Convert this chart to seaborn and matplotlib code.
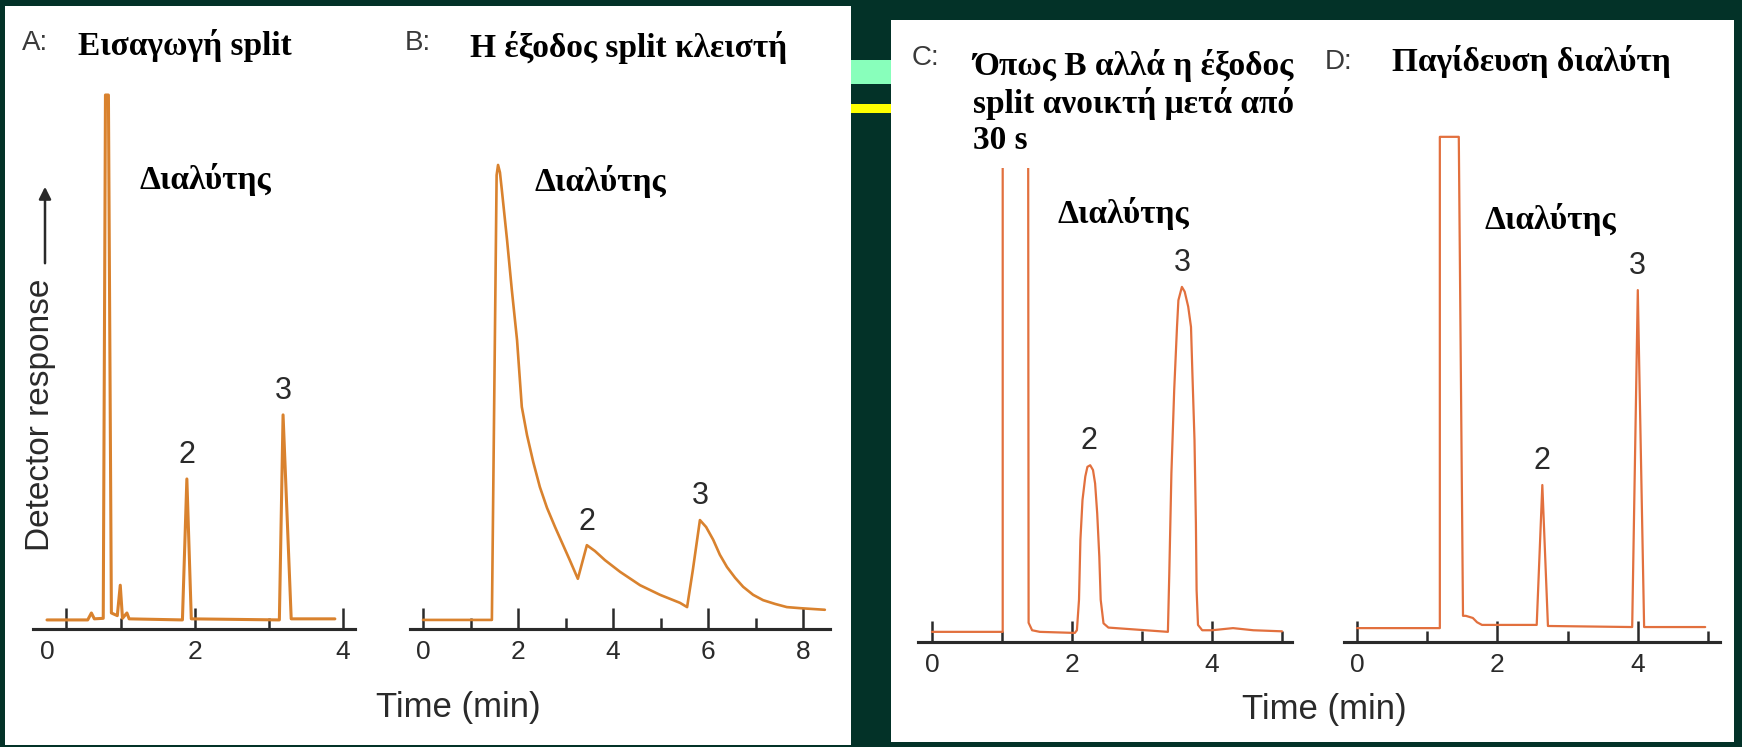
import numpy as np
import pandas as pd
import matplotlib.pyplot as plt
import matplotlib.patches as mpatches
import seaborn as sns

# Canvas size in pixels (dpi 100)
W, H = 1742, 747

# ---- Chromatogram data: time (min) vs detector response (arbitrary units) ----
# A: split injection
a_time = [0, 0.55, 0.60, 0.64, 0.76, 0.79, 0.83, 0.87, 0.95, 0.99, 1.02, 1.08, 1.11,
          1.83, 1.89, 1.95, 3.14, 3.19, 3.30, 3.89]
a_resp = [1.7, 1.7, 3.0, 1.9, 2.0, 100, 100, 3.0, 2.5, 8.2, 2.0, 3.0, 1.9,
          1.7, 28.1, 1.9, 1.7, 40.1, 1.9, 1.9]

# B: split vent closed
b_time = [0, 1.45, 1.55, 1.58, 1.62, 1.66, 1.77, 1.87, 1.98, 2.08, 2.19, 2.32, 2.46,
          2.61, 2.78, 2.95, 3.09, 3.26, 3.45, 3.62, 3.83, 4.15, 4.57, 4.99, 5.41,
          5.56, 5.68, 5.83, 5.96, 6.11, 6.25, 6.40, 6.57, 6.74, 6.95, 7.16, 7.41,
          7.66, 7.94, 8.46]
b_resp = [1.7, 1.7, 85.0, 86.9, 85.5, 82.2, 72.8, 63.5, 54.1, 41.6, 36.3, 31.3, 26.6,
          22.7, 19.1, 15.7, 12.9, 9.4, 15.7, 14.6, 12.9, 10.7, 8.2, 6.4, 4.9,
          4.1, 11.0, 20.4, 19.1, 16.7, 13.9, 11.6, 9.6, 7.9, 6.4, 5.4, 4.7,
          4.1, 3.9, 3.6]

# C: as B, split vent opened after 30 s (solvent peak runs off scale)
c_time = [0, 1.01, 1.01, 1.37, 1.38, 1.43, 1.54, 2.04, 2.07, 2.10, 2.12, 2.15, 2.19,
          2.22, 2.26, 2.30, 2.33, 2.36, 2.39, 2.41, 2.45, 2.52, 3.37, 3.39, 3.42,
          3.46, 3.50, 3.52, 3.57, 3.61, 3.66, 3.70, 3.72, 3.75, 3.77, 3.78, 3.80,
          3.86, 4.00, 4.30, 4.59, 5.00]
c_resp = [1.9, 1.9, 150, 150, 3.6, 2.2, 1.9, 1.7, 2.2, 7.9, 19.1, 26.6, 31.0,
          32.8, 33.1, 32.2, 29.7, 24.1, 16.0, 7.9, 3.5, 2.7, 1.9, 12.9, 31.6,
          47.2, 59.0, 64.0, 66.5, 65.6, 62.8, 59.0, 50.3, 37.8, 22.2, 9.7, 3.2,
          2.2, 2.2, 2.6, 2.2, 2.0]

# D: solvent trapping
d_time = [0, 1.18, 1.18, 1.45, 1.51, 1.55, 1.65, 1.71, 1.78, 2.56, 2.64, 2.72,
          3.92, 4.00, 4.09, 4.96]
d_resp = [2.6, 2.6, 94.6, 94.6, 4.9, 4.9, 4.5, 3.7, 3.2, 3.2, 29.4, 3.0,
          2.8, 65.9, 2.8, 2.8]

# peak numbers (time, response) for labels
a_peaks = [(1.89, 28.1, '2'), (3.19, 40.1, '3')]
b_peaks = [(3.45, 15.7, '2'), (5.83, 20.4, '3')]
c_peaks = [(2.24, 33.3, '2'), (3.57, 66.5, '3')]
d_peaks = [(2.64, 29.4, '2'), (4.00, 65.9, '3')]

panel_letters = ['A:', 'B:', 'C:', 'D:']
panel_titles = ['Εισαγωγή split', 'Η έξοδος split κλειστή',
                'Όπως Β αλλά η έξοδος\nsplit ανοικτή μετά από\n30 s', 'Παγίδευση διαλύτη']
solvent_label = 'Διαλύτης'

sns.set_theme(style='white')
plt.rcParams['font.family'] = ['Liberation Sans', 'DejaVu Sans']

BG = '#033228'
TRACE_AB = '#d9822e'
TRACE_CD = '#e2703e'
INK = '#2a2a2a'
SERIF = ['Liberation Serif', 'DejaVu Serif']


def fx(x):
    return x / W


def fy(y):
    return 1 - y / H


fig = plt.figure(figsize=(W / 100, H / 100), dpi=100, facecolor=BG)

# template decorations and white panels
fig.add_artist(mpatches.Rectangle((fx(851), fy(84)), 40 / W, 24 / H, transform=fig.transFigure,
                                  facecolor='#88ffbb', edgecolor='none', zorder=0))
fig.add_artist(mpatches.Rectangle((fx(851), fy(113)), 40 / W, 9 / H, transform=fig.transFigure,
                                  facecolor='#ffff00', edgecolor='none', zorder=0))
fig.add_artist(mpatches.Rectangle((fx(5), fy(745)), 846 / W, 739 / H, transform=fig.transFigure,
                                  facecolor='white', edgecolor='none', zorder=0))
fig.add_artist(mpatches.Rectangle((fx(891), fy(742)), 843 / W, 722 / H, transform=fig.transFigure,
                                  facecolor='white', edgecolor='none', zorder=0))

# panel specs: pixel box (left, right, axis_y, top), x range, tick info
panels = [
    dict(t=a_time, r=a_resp, peaks=a_peaks, box=(33, 355, 629, 80), x0=47, ppm=74.0,
         labels=[0, 2, 4], major=[0.25, 2, 4], minor=[1, 3], color=TRACE_AB, lw=2.2),
    dict(t=b_time, r=b_resp, peaks=b_peaks, box=(410, 830, 629, 80), x0=423, ppm=47.5,
         labels=[0, 2, 4, 6, 8], major=[0, 2, 4, 6, 8], minor=[1, 3, 5, 7], color=TRACE_AB, lw=1.9),
    dict(t=c_time, r=c_resp, peaks=c_peaks, box=(918, 1292, 642, 168), x0=932, ppm=70.0,
         labels=[0, 2, 4], major=[0, 2, 4], minor=[1, 3, 5], color=TRACE_CD, lw=1.6),
    dict(t=d_time, r=d_resp, peaks=d_peaks, box=(1344, 1720, 642, 120), x0=1357, ppm=70.2,
         labels=[0, 2, 4], major=[0, 2, 4], minor=[1, 3, 5], color=TRACE_CD, lw=1.6),
]
PX_PER_UNIT = 5.34

for p in panels:
    left, right, axis_y, top = p['box']
    ax = fig.add_axes([fx(left), fy(axis_y), (right - left) / W, (axis_y - top) / H])
    ax.patch.set_alpha(0)
    df = pd.DataFrame({'time': p['t'], 'response': p['r']})
    sns.lineplot(data=df, x='time', y='response', ax=ax, sort=False, estimator=None,
                 color=p['color'], linewidth=p['lw'])
    ax.set_xlim((left - p['x0']) / p['ppm'], (right - p['x0']) / p['ppm'])
    ax.set_ylim(0, (axis_y - top) / PX_PER_UNIT)
    ax.set_xlabel('')
    ax.set_ylabel('')
    ax.set_yticks([])
    for s in ['left', 'top', 'right']:
        ax.spines[s].set_visible(False)
    ax.spines['bottom'].set_color(INK)
    ax.spines['bottom'].set_linewidth(2.2)
    # labels on the main axis, tick marks on a secondary axis
    ax.set_xticks(p['labels'])
    ax.set_xticklabels([str(v) for v in p['labels']])
    ax.tick_params(axis='x', length=0, pad=8, labelsize=19, labelcolor=INK)
    sec = ax.secondary_xaxis('bottom')
    sec.set_xticks(p['major'])
    sec.set_xticks(p['minor'], minor=True)
    sec.set_xticklabels([])
    sec.tick_params(axis='x', which='major', direction='in', length=15, width=1.8, color=INK)
    sec.tick_params(axis='x', which='minor', direction='in', length=8, width=1.8, color=INK)
    sec.spines['bottom'].set_color(INK)
    sec.spines['bottom'].set_linewidth(2.2)
    for t, r, lab in p['peaks']:
        ax.annotate(lab, xy=(t, r), xytext=(0, 17), textcoords='offset points',
                    ha='center', va='center', fontsize=22, color=INK)

# panel letters and titles
letter_pos = [(22, 43), (405, 43), (912, 58), (1325, 62)]
title_pos = [(78, 45), (470, 47), (973, 49), (1392, 62)]
for i, (lab, title) in enumerate(zip(panel_letters, panel_titles)):
    lx, ly = letter_pos[i]
    fig.text(fx(lx), fy(ly), lab, ha='left', va='center', fontsize=20, color='#3a3a3a')
    tx, ty = title_pos[i]
    fig.text(fx(tx), fy(ty), title, ha='left', va='center' if i != 2 else 'top',
             fontsize=24, fontweight='bold', family=SERIF, color='black')

# solvent labels
for sx, sy in [(205, 180), (600, 182), (1123, 213), (1550, 219)]:
    fig.text(fx(sx), fy(sy), solvent_label, ha='center', va='center', fontsize=24,
             fontweight='bold', family=SERIF, color='black')

# y-axis caption with arrow
fig.text(fx(40), fy(415), 'Detector response', rotation=90, ha='center', va='center',
         fontsize=24, color=INK)
fig.add_artist(mpatches.FancyArrowPatch((fx(45), fy(266)), (fx(45), fy(184)),
                                        transform=fig.transFigure, arrowstyle='-|>',
                                        mutation_scale=18, color=INK, lw=1.8))

# time axis captions
fig.text(fx(458), fy(707), 'Time (min)', ha='center', va='center', fontsize=25, color=INK)
fig.text(fx(1324), fy(710), 'Time (min)', ha='center', va='center', fontsize=25, color=INK)

fig.savefig('out.png', dpi=100, facecolor=fig.get_facecolor())
